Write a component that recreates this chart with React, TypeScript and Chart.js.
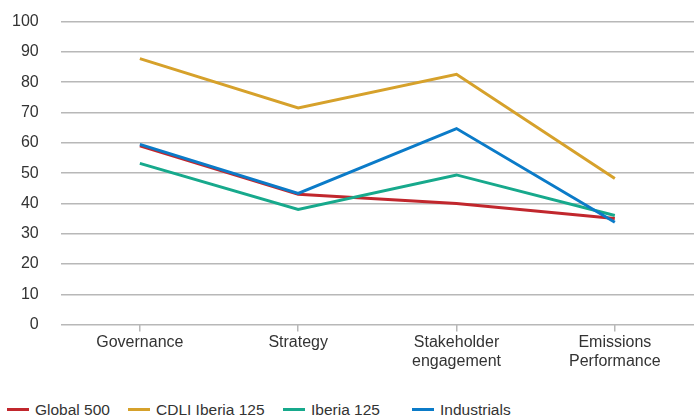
import React, { useEffect, useRef } from "react";
import { Chart, registerables } from "chart.js";

Chart.register(...registerables);

const categories: (string | string[])[] = [
  "Governance",
  "Strategy",
  ["Stakeholder", "engagement"],
  ["Emissions", "Performance"],
];
const seriesNames = ["Global 500", "CDLI Iberia 125", "Iberia 125", "Industrials"];
const global500 = [59, 43, 40, 35];
const cdliIberia = [87.8, 71.5, 82.6, 48.2];
const iberia125 = [53.2, 38, 49.4, 36];
const industrials = [59.5, 43.3, 64.7, 33.8];
const yTicks = [0, 10, 20, 30, 40, 50, 60, 70, 80, 90, 100];

const colors = ["#c1272d", "#d6a12b", "#17a98c", "#0b7bc8"];
const legendLeft = [7, 128, 283, 412];
const FONT = "'Liberation Sans', Arial, Helvetica, sans-serif";

export default function App() {
  const ref = useRef<HTMLCanvasElement | null>(null);
  useEffect(() => {
    document.body.style.margin = "0";
    const values = [global500, cdliIberia, iberia125, industrials];
    const orders = [3, 4, 2, 1];
    const chart = new Chart(ref.current!, {
      type: "line",
      data: {
        labels: categories,
        datasets: values.map((v, i) => ({
          label: seriesNames[i],
          data: v,
          borderColor: colors[i],
          backgroundColor: colors[i],
          borderWidth: 3,
          pointRadius: 0,
          tension: 0,
          fill: false,
          order: orders[i],
        })),
      },
      options: {
        animation: false,
        responsive: false,
        maintainAspectRatio: false,
        layout: { padding: { top: -8, right: -5, left: -10, bottom: 0 } },
        plugins: { legend: { display: false }, tooltip: { enabled: false } },
        scales: {
          x: {
            offset: true,
            grid: {
              display: true,
              drawOnChartArea: false,
              drawTicks: true,
              tickLength: 7,
              color: "#b8b8b8",
              lineWidth: 1.5,
            },
            border: { display: false },
            ticks: {
              color: "#333",
              font: { family: FONT, size: 16 },
              padding: 1,
              maxRotation: 0,
              autoSkip: false,
            },
          },
          y: {
            min: 0,
            max: 100,
            afterBuildTicks: (s: any) => {
              s.ticks = yTicks.map((v) => ({ value: v }));
            },
            grid: { color: "#b8b8b8", lineWidth: 1.5, drawTicks: false },
            border: { display: false },
            ticks: {
              color: "#333",
              font: { family: FONT, size: 16 },
              padding: 22,
            },
          },
        },
      },
    });
    return () => chart.destroy();
  }, []);

  return (
    <div style={{ position: "relative", width: 694, height: 417, fontFamily: FONT, overflow: "hidden" }}>
      <canvas ref={ref} width={694} height={382} style={{ position: "absolute", left: 0, top: -10 }} />
      {seriesNames.map((n, i) => (
        <div
          key={n}
          style={{
            position: "absolute",
            left: legendLeft[i],
            top: 400,
            display: "flex",
            alignItems: "center",
            fontSize: 15.5,
            color: "#333",
            whiteSpace: "nowrap",
            lineHeight: "19px",
          }}
        >
          <span style={{ display: "inline-block", width: 22, height: 3, background: colors[i], marginRight: 6 }} />
          {n}
        </div>
      ))}
    </div>
  );
}
